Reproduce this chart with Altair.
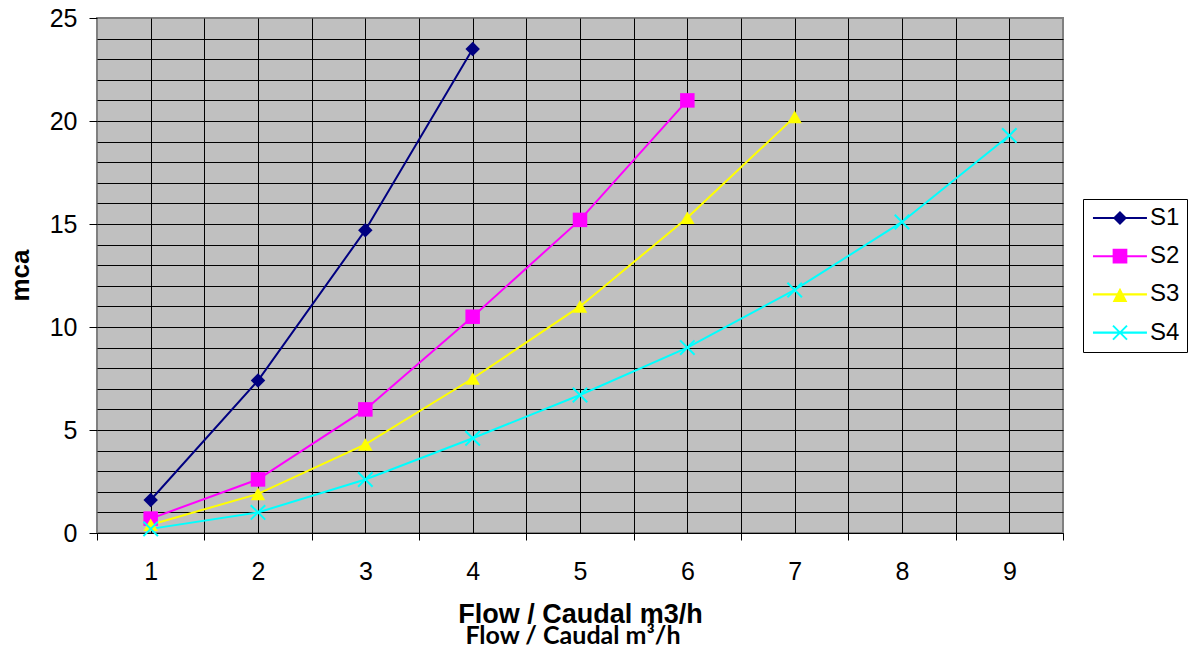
import altair as alt
import pandas as pd

# ---- data ----
flow = [1, 2, 3, 4, 5, 6, 7, 8, 9]
s1 = [1.6, 7.4, 14.7, 23.5]
s2 = [0.7, 2.6, 6.0, 10.5, 15.2, 21.0]
s3 = [0.4, 1.9, 4.3, 7.5, 11.0, 15.3, 20.2]
s4 = [0.2, 1.0, 2.6, 4.6, 6.7, 9.0, 11.8, 15.1, 19.3]
series_names = ["S1", "S2", "S3", "S4"]
series_colors = ["#000080", "#FF00FF", "#FFFF00", "#00FFFF"]
x_tick_values = [0.5, 1, 1.5, 2, 2.5, 3, 3.5, 4, 4.5, 5, 5.5, 6, 6.5, 7, 7.5, 8, 8.5, 9, 9.5]
y_tick_values = [0, 1, 2, 3, 4, 5, 6, 7, 8, 9, 10, 11, 12, 13, 14, 15, 16, 17, 18, 19, 20,
                 21, 22, 23, 24, 25]

rows = []
for name, vals in zip(series_names, [s1, s2, s3, s4]):
    for xv, yv in zip(flow, vals):
        rows.append({"series": name, "flow": xv, "head": yv})
df = pd.DataFrame(rows)

# marker shapes for the plot (X drawn as a filled polygon)
x_path = "M-0.9,-1.1L1.1,0.9L0.9,1.1L-1.1,-0.9ZM1.1,-0.9L-0.9,1.1L-1.1,0.9L0.9,-1.1Z"
plot_shapes = ["diamond", "square", "triangle-up", x_path]

# legend symbols: line segment + marker (offset so the line sits left of the label)
s = -0.29
c = 2.86 + s
x0 = -1.0 + s
x1 = 6.71 + s
line_seg = f"M{x0},-0.15H{x1}V0.15H{x0}Z"
leg_diamond = line_seg + f"M{c},-1L{c+1},0L{c},1L{c-1},0Z"
leg_square = line_seg + f"M{c-1.05},-1.05H{c+1.05}V1.05H{c-1.05}Z"
leg_tri = line_seg + f"M{c},-0.95L{c+1.05},1.1L{c-1.05},1.1Z"
leg_x = line_seg + (f"M{c-0.9},-1.1L{c+1.1},0.9L{c+0.9},1.1L{c-1.1},-0.9Z"
                    f"M{c+1.1},-0.9L{c-0.9},1.1L{c-1.1},0.9L{c+0.9},-1.1Z")
legend_shapes = [leg_diamond, leg_square, leg_tri, leg_x]

xenc = alt.X(
    "flow:Q",
    scale=alt.Scale(domain=[0.5, 9.5], nice=False, zero=False),
    axis=alt.Axis(
        values=x_tick_values,
        labelExpr="datum.value % 1 === 0 ? '' + datum.value : ''",
        title="Flow / Caudal m3/h",
        titleFont="Liberation Sans", titleFontSize=27, titleFontWeight="bold",
        titleColor="black", titlePadding=17,
        labelFont="Liberation Sans", labelFontSize=25, labelColor="black",
        labelPadding=19, labelOverlap=False, labelFlush=False,
        tickSize=7,
        tickColor={"condition": {"test": "datum.value % 1 !== 0", "value": "black"},
                   "value": "transparent"},
        grid=True,
        gridColor={"condition": {"test": "datum.value <= 0.5 || datum.value >= 9.5",
                                 "value": "transparent"}, "value": "black"},
        gridWidth=1,
        domainColor="black", domainWidth=1,
    ),
)

yenc = alt.Y(
    "head:Q",
    scale=alt.Scale(domain=[0, 25], nice=False),
    axis=alt.Axis(
        values=y_tick_values,
        labelExpr="datum.value % 5 === 0 ? '' + datum.value : ''",
        title="mca",
        titleFont="Liberation Sans", titleFontSize=26, titleFontWeight="bold",
        titleColor="black", titleX=-69, titleY=257, titleAlign="center",
        titleBaseline="alphabetic",
        labelFont="Liberation Sans", labelFontSize=25, labelColor="black",
        labelPadding=12, labelOverlap=False,
        tickSize=8,
        tickColor={"condition": {"test": "datum.value % 5 === 0", "value": "black"},
                   "value": "transparent"},
        grid=True,
        gridColor={"condition": {"test": "datum.value >= 25", "value": "transparent"},
                   "value": "black"},
        gridWidth=1,
        domain=False,
    ),
)

color_scale = alt.Scale(domain=series_names, range=series_colors)

legend_kw = dict(
    orient="none", legendX=986, legendY=181, title=None,
    symbolSize=196, labelOffset=36, labelFont="Liberation Sans", labelFontSize=24,
    labelColor="black", padding=7, rowPadding=14.2, strokeColor="black",
    fillColor="white", symbolStrokeWidth=0, symbolOpacity=1,
)

base = alt.Chart(df)

lines = base.mark_line(strokeWidth=2).encode(
    x=xenc, y=yenc,
    color=alt.Color("series:N", scale=color_scale, legend=None),
    detail="series:N",
)

points = base.mark_point(filled=True, size=210, opacity=1).encode(
    x=xenc, y=yenc,
    color=alt.Color("series:N", scale=color_scale, legend=None),
    shape=alt.Shape("series:N", scale=alt.Scale(domain=series_names, range=plot_shapes),
                    legend=None),
)

legend_layer = base.transform_filter("false").mark_point(filled=True, size=196, opacity=1).encode(
    x=xenc, y=yenc,
    color=alt.Color("series:N", scale=color_scale, legend=alt.Legend(**legend_kw)),
    shape=alt.Shape("series:N", scale=alt.Scale(domain=series_names, range=legend_shapes),
                    legend=alt.Legend(**legend_kw)),
)

chart = alt.layer(lines, points, legend_layer).resolve_scale(
    color="independent", shape="independent"
).properties(
    width=966, height=515,
    autosize=alt.AutoSizeParams(type="none"),
    padding={"left": 89, "top": 10, "right": 126, "bottom": 114},
    title=alt.TitleParams(
        text="Flow / Caudal m³/h", orient="bottom", anchor="middle",
        font="Lato", fontSize=25, fontWeight="bold", color="black",
        offset=0, dx=-7, dy=-3,
    ),
    background="white",
).configure_view(
    fill="#C0C0C0", stroke="#808080", strokeWidth=2,
)

chart.save("out.html", embed_options={"renderer": "svg", "actions": False})
